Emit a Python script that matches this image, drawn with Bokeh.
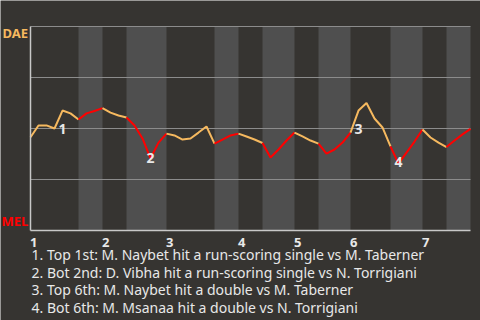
from bokeh.plotting import figure
from bokeh.models import FixedTicker, Range1d
from bokeh.embed import file_html
from bokeh.resources import INLINE
from bokeh.core.properties import value

# Win expectancy for DAE (1 = DAE wins, 0 = MEL wins), one value per plate appearance
win_exp = [0.457, 0.515, 0.515, 0.500, 0.588, 0.574, 0.544,
           0.574, 0.586, 0.600,
           0.578, 0.564, 0.554,
           0.515, 0.451, 0.353, 0.431, 0.475,
           0.466, 0.446, 0.451, 0.480, 0.510, 0.426,
           0.446, 0.466, 0.475,
           0.461, 0.446, 0.429,
           0.358, 0.397, 0.441, 0.480,
           0.461, 0.441, 0.426,
           0.377, 0.397, 0.431, 0.480,
           0.588, 0.625, 0.549, 0.505, 0.412,
           0.328, 0.382, 0.436, 0.495,
           0.456, 0.431, 0.409,
           0.441, 0.471, 0.498]

# plate-appearance index at which each half-inning starts (last = end of data)
half_inning_starts = [0, 6, 9, 12, 17, 23, 26, 29, 33, 36, 40, 45, 49, 52, 55]
inning_labels = ["1", "2", "3", "4", "5", "6", "7"]
grid_levels = [0.25, 0.5, 0.75, 1.0]

event_x = [4, 15, 41, 46]
event_y = [0.50, 0.355, 0.50, 0.335]
event_marks = ["1", "2", "3", "4"]
event_texts = [
    "1. Top 1st: M. Naybet hit a run-scoring single vs M. Taberner",
    "2. Bot 2nd: D. Vibha hit a run-scoring single vs N. Torrigiani",
    "3. Top 6th: M. Naybet hit a double vs M. Taberner",
    "4. Bot 6th: M. Msanaa hit a double vs N. Torrigiani",
]
away_team, home_team = "DAE", "MEL"

BG = "#363431"
BAND = "#4f4f4f"
ORANGE = "#f6b95f"
RED = "#ff0000"
TEXT = "#e8e8e8"
FONT = "Noto Sans"

W, H = 480, 320
L, R, T, B = 30, 10, 26, 90          # margins around the plotting area (px)
n = half_inning_starts[-1]
ux = (W - L - R) / n                 # px per plate appearance
uy = H - T - B                       # px per unit of win expectancy

p = figure(width=W, height=H, output_backend="svg", toolbar_location=None,
           x_range=Range1d(-L / ux, n + R / ux),
           y_range=Range1d(-B / uy, 1 + T / uy),
           min_border=0, background_fill_color=BG, border_fill_color=BG,
           outline_line_color=None)

# shaded bottom halves
bl = half_inning_starts[1:-1:2]
br = half_inning_starts[2::2]
p.quad(left=bl, right=br, bottom=0, top=1, fill_color=BAND, line_color=None)

# horizontal grid lines across the plotting area
p.segment(x0=[0] * len(grid_levels), x1=[n] * len(grid_levels),
          y0=grid_levels, y1=grid_levels, line_color="#8c8c8c", line_width=1)
p.grid.grid_line_color = None

# line split per half-inning
xs, ys, cols = [], [], []
for i in range(len(half_inning_starts) - 1):
    a, b = half_inning_starts[i], half_inning_starts[i + 1]
    xs.append(list(range(a, b + 1)))
    ys.append(win_exp[a:b + 1])
    cols.append(ORANGE if i % 2 == 0 else RED)
p.multi_line(xs=xs, ys=ys, line_color=cols, line_width=2)

p.text(x=event_x, y=event_y, text=event_marks, text_font=value(FONT),
       text_font_style="bold", text_font_size="14px", text_color=TEXT,
       text_align="center", text_baseline="middle")

# axes fixed at the edges of the plotting area
# inning labels sit just right of the start of each inning
label_shift = 3.2 / ux
inning_ticks = [s + label_shift for s in half_inning_starts[0:-1:2]]
p.xaxis.fixed_location = 0
p.xaxis.bounds = (0, n)
p.xaxis.ticker = FixedTicker(ticks=inning_ticks)
p.xaxis.major_label_overrides = {t: l for t, l in zip(inning_ticks, inning_labels)}
p.xaxis.major_label_text_color = TEXT
p.xaxis.major_label_text_font = FONT
p.xaxis.major_label_text_font_style = "bold"
p.xaxis.major_label_text_font_size = "13px"
p.xaxis.major_label_standoff = 1
p.xaxis.major_tick_line_color = None
p.xaxis.minor_tick_line_color = None
p.xaxis.axis_line_color = "#c8c8c8"
p.xaxis.axis_line_width = 1.5

p.yaxis.fixed_location = 0
p.yaxis.bounds = (0, 1)
p.yaxis.ticker = FixedTicker(ticks=[])
p.yaxis.major_tick_line_color = None
p.yaxis.minor_tick_line_color = None
p.yaxis.axis_line_color = "#c8c8c8"
p.yaxis.axis_line_width = 1.5

# team labels at the top (away) and bottom (home) of the scale
p.text(x=[-28 / ux, -29 / ux], y=[1 - 6 / uy, 10 / uy], text=[away_team, home_team],
       text_font=value(FONT), text_font_style="bold", text_font_size="13px",
       text_color=[ORANGE, RED], text_align="left", text_baseline="middle")

# event descriptions below the chart
p.text(x=[1 / ux] * len(event_texts),
       y=[-(24 + 17.7 * i) / uy for i in range(len(event_texts))],
       text=event_texts, text_font=value(FONT), text_font_size="14px",
       text_color=TEXT, text_align="left", text_baseline="middle")

open("out.html", "w").write(file_html(p, INLINE))
